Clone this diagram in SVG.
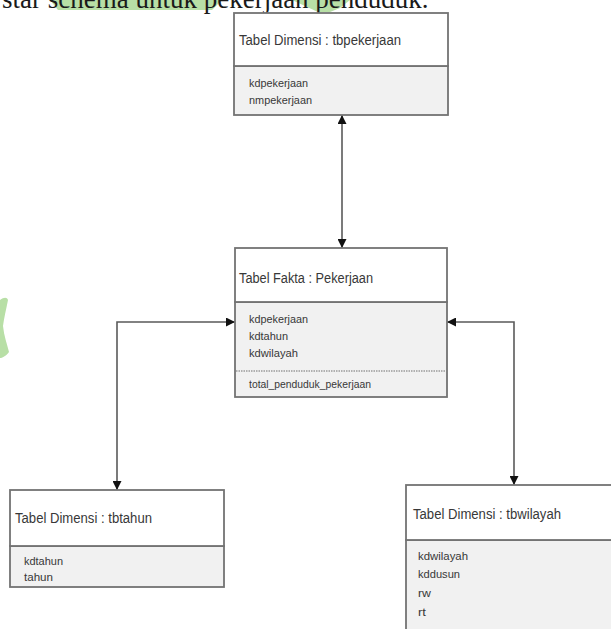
<svg xmlns="http://www.w3.org/2000/svg" width="611" height="629" viewBox="0 0 611 629">
  <style>
    .hdr { fill: #ffffff; stroke: #737373; stroke-width: 1.8; }
    .body { fill: #f1f1f1; stroke: #737373; stroke-width: 1.8; }
    .title { font-family: "Liberation Sans", Arial, sans-serif; font-size: 14px; fill: #383838; }
    .attr { font-family: "Liberation Sans", Arial, sans-serif; font-size: 11.5px; fill: #383838; }
    .sep { stroke: #9a9a9a; stroke-width: 1.4; stroke-dasharray: 1.5 1; }
    .conn { fill: none; stroke: #5a5a5a; stroke-width: 1.6; }
    .wm { fill: #b8dfa6; }
    .caption { font-family: "Liberation Serif", "Times New Roman", serif; font-size: 27px; fill: #1a1a1a; }
  </style>
  <defs>
    <marker id="arrow" viewBox="0 0 10 10" refX="10" refY="5" markerWidth="10" markerHeight="9" markerUnits="userSpaceOnUse" orient="auto-start-reverse">
      <path d="M0,0 L10,5 L0,10 z" fill="#111111"/>
    </marker>
  </defs>

  <!-- faint watermark fragments -->
  <g id="watermark">
    <path class="wm" d="M50,0 L222,0 L212,10 L58,10 Z"/>
    <path class="wm" d="M292,0 L350,0 L340,8 L330,12 L318,12 Z"/>
    <path class="wm" d="M0,300 C4,297 7,297 8,300 C6,310 4,318 3,326 C4,336 7,344 9,352 C6,356 2,358 0,358 Z"/>
  </g>

  <!-- caption line running off the top edge -->
  <text class="caption" x="2" y="8">star schema untuk pekerjaan penduduk.</text>

  <!-- connectors -->
  <g id="connectors">
    <line class="conn" x1="342" y1="115" x2="342" y2="248" marker-start="url(#arrow)" marker-end="url(#arrow)"/>
    <polyline class="conn" points="235,322 117,322 117,490" marker-start="url(#arrow)" marker-end="url(#arrow)"/>
    <polyline class="conn" points="447,322 514,322 514,485" marker-start="url(#arrow)" marker-end="url(#arrow)"/>
  </g>

  <!-- dimension table: tbpekerjaan -->
  <g id="tbpekerjaan">
    <rect class="body" x="234" y="66" width="214" height="49"/>
    <rect class="hdr" x="234" y="13" width="214" height="53"/>
    <text class="title" x="239" y="45" textLength="162" lengthAdjust="spacingAndGlyphs">Tabel Dimensi : tbpekerjaan</text>
    <text class="attr" x="249" y="87" textLength="59" lengthAdjust="spacingAndGlyphs">kdpekerjaan</text>
    <text class="attr" x="249" y="104" textLength="63" lengthAdjust="spacingAndGlyphs">nmpekerjaan</text>
  </g>

  <!-- fact table: Pekerjaan -->
  <g id="fakta-pekerjaan">
    <rect class="body" x="235" y="302" width="212" height="95"/>
    <rect class="hdr" x="235" y="248" width="212" height="54"/>
    <text class="title" x="239" y="283" textLength="134" lengthAdjust="spacingAndGlyphs">Tabel Fakta : Pekerjaan</text>
    <text class="attr" x="249" y="323" textLength="59" lengthAdjust="spacingAndGlyphs">kdpekerjaan</text>
    <text class="attr" x="249" y="340" textLength="39" lengthAdjust="spacingAndGlyphs">kdtahun</text>
    <text class="attr" x="249" y="357" textLength="49" lengthAdjust="spacingAndGlyphs">kdwilayah</text>
    <line class="sep" x1="236" y1="371" x2="446" y2="371"/>
    <text class="attr" x="249" y="388" textLength="122" lengthAdjust="spacingAndGlyphs">total_penduduk_pekerjaan</text>
  </g>

  <!-- dimension table: tbtahun -->
  <g id="tbtahun">
    <rect class="body" x="10" y="546" width="214" height="41"/>
    <rect class="hdr" x="10" y="490" width="214" height="56"/>
    <text class="title" x="15" y="523" textLength="137" lengthAdjust="spacingAndGlyphs">Tabel Dimensi : tbtahun</text>
    <text class="attr" x="24" y="565" textLength="39" lengthAdjust="spacingAndGlyphs">kdtahun</text>
    <text class="attr" x="24" y="581" textLength="29" lengthAdjust="spacingAndGlyphs">tahun</text>
  </g>

  <!-- dimension table: tbwilayah -->
  <g id="tbwilayah">
    <rect class="body" x="406" y="540" width="214" height="100"/>
    <rect class="hdr" x="406" y="485" width="214" height="55"/>
    <text class="title" x="413" y="519" textLength="148" lengthAdjust="spacingAndGlyphs">Tabel Dimensi : tbwilayah</text>
    <text class="attr" x="418" y="560" textLength="50" lengthAdjust="spacingAndGlyphs">kdwilayah</text>
    <text class="attr" x="418" y="578" textLength="42" lengthAdjust="spacingAndGlyphs">kddusun</text>
    <text class="attr" x="418" y="597" textLength="13" lengthAdjust="spacingAndGlyphs">rw</text>
    <text class="attr" x="418" y="616" textLength="8" lengthAdjust="spacingAndGlyphs">rt</text>
  </g>
</svg>
